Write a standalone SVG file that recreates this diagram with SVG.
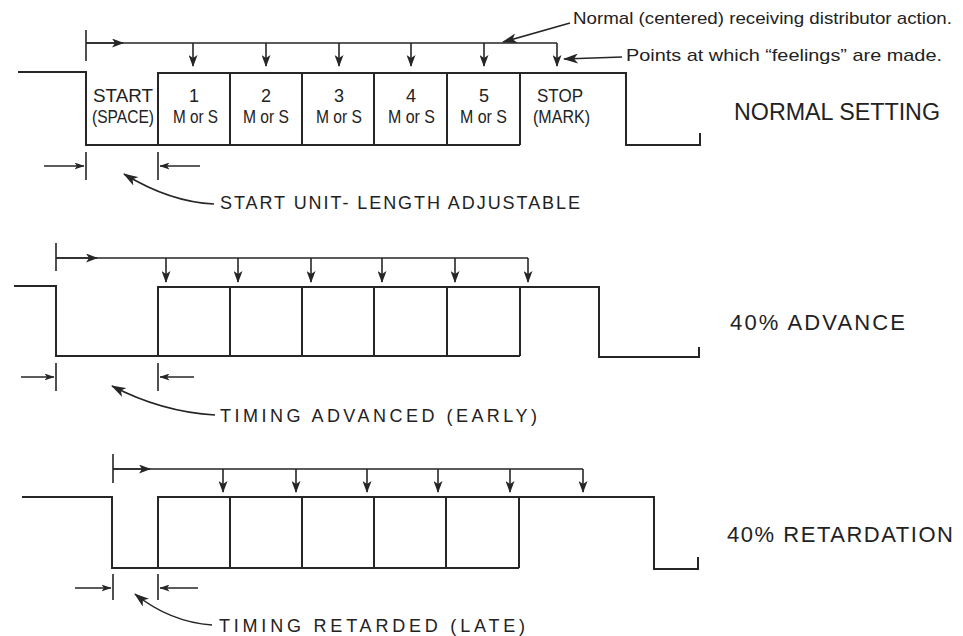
<svg xmlns="http://www.w3.org/2000/svg" width="963" height="636" viewBox="0 0 963 636">
<style>
.w{fill:none;stroke:#262626;stroke-width:2;stroke-linejoin:miter}
.c{fill:none;stroke:#262626;stroke-width:1.6}
.t{font-family:"Liberation Sans",Arial,sans-serif;fill:#222}
.bx{font-size:18px}
.lab{font-size:18px}
.big{font-size:22px}
.note{font-size:17px}
</style>
<defs>
<marker id="ah" viewBox="0 0 12 9" refX="11" refY="4.5" markerWidth="12" markerHeight="9" markerUnits="userSpaceOnUse" orient="auto"><path d="M0,0 L12,4.5 L0,9 L3,4.5 z" fill="#262626"/></marker>
<marker id="as" viewBox="0 0 10 7" refX="9.5" refY="3.5" markerWidth="10" markerHeight="7" markerUnits="userSpaceOnUse" orient="auto"><path d="M0,0 L10,3.5 L0,7 L2.5,3.5 z" fill="#262626"/></marker>
<marker id="al" viewBox="0 0 15 10" refX="14" refY="5" markerWidth="15" markerHeight="10" markerUnits="userSpaceOnUse" orient="auto"><path d="M0,0 L15,5 L0,10 L4,5 z" fill="#262626"/></marker>
</defs>
<rect width="963" height="636" fill="#fff"/>

<!-- NORMAL SETTING waveform -->
<g id="wave-normal">
<path class="w" d="M18,72 H86 V145 H520"/>
<path class="w" d="M158,145 V73 H626 V145 H700 V133"/>
<path class="w" d="M230,73 V145 M302,73 V145 M374,73 V145 M447,73 V145 M520,73 V145"/>
<text class="t bx" x="93" y="102" textLength="60" lengthAdjust="spacingAndGlyphs">START</text>
<text class="t bx" x="92" y="123" textLength="62" lengthAdjust="spacingAndGlyphs">(SPACE)</text>
<text class="t bx" x="194" y="102" text-anchor="middle">1</text>
<text class="t bx" x="266" y="102" text-anchor="middle">2</text>
<text class="t bx" x="339" y="102" text-anchor="middle">3</text>
<text class="t bx" x="411" y="102" text-anchor="middle">4</text>
<text class="t bx" x="484" y="102" text-anchor="middle">5</text>
<text class="t bx" x="173" y="123" textLength="45" lengthAdjust="spacingAndGlyphs">M or S</text>
<text class="t bx" x="243" y="123" textLength="46" lengthAdjust="spacingAndGlyphs">M or S</text>
<text class="t bx" x="316" y="123" textLength="46" lengthAdjust="spacingAndGlyphs">M or S</text>
<text class="t bx" x="388" y="123" textLength="47" lengthAdjust="spacingAndGlyphs">M or S</text>
<text class="t bx" x="460" y="123" textLength="47" lengthAdjust="spacingAndGlyphs">M or S</text>
<text class="t bx" x="537" y="102" textLength="46" lengthAdjust="spacingAndGlyphs">STOP</text>
<text class="t bx" x="533" y="123" textLength="57" lengthAdjust="spacingAndGlyphs">(MARK)</text>
</g>

<!-- 40% ADVANCE waveform -->
<g id="wave-advance">
<path class="w" d="M14,286 H56 V356 H520"/>
<path class="w" d="M158,356 V287 H599 V357 H699 V347"/>
<path class="w" d="M230,287 V356 M302,287 V356 M374,287 V356 M447,287 V356 M520,287 V356"/>
</g>

<!-- 40% RETARDATION waveform -->
<g id="wave-retard">
<path class="w" d="M22,497 H112 V568 H519"/>
<path class="w" d="M158,568 V497 H654 V569 H698 V557"/>
<path class="w" d="M230,497 V568 M302,497 V568 M374,497 V568 M446,497 V568 M519,497 V568"/>
</g>

<!-- labels -->
<g id="label-normal"><text class="t" style="font-size:23px" x="734" y="120" textLength="206" lengthAdjust="spacingAndGlyphs">NORMAL SETTING</text></g>
<g id="label-advance"><text class="t big" x="730" y="330" textLength="175" lengthAdjust="spacing">40% ADVANCE</text></g>
<g id="label-retard"><text class="t big" x="727" y="542" textLength="226" lengthAdjust="spacing">40% RETARDATION</text></g>
<g id="note-centered"><text class="t note" x="573" y="24" textLength="379" lengthAdjust="spacingAndGlyphs">Normal (centered) receiving distributor action.</text></g>
<g id="note-points"><text class="t note" x="626" y="61" textLength="316" lengthAdjust="spacingAndGlyphs">Points at which “feelings” are made.</text></g>
<g id="note-start"><text class="t lab" x="220" y="209" textLength="360" lengthAdjust="spacing">START UNIT- LENGTH ADJUSTABLE</text></g>
<g id="note-early"><text class="t lab" x="220" y="422" textLength="317" lengthAdjust="spacing">TIMING ADVANCED (EARLY)</text></g>
<g id="note-late"><text class="t lab" x="219" y="632" textLength="306" lengthAdjust="spacing">TIMING RETARDED (LATE)</text></g>

<!-- connectors -->
<g id="connectors">
<!-- distributor, normal -->
<path class="c" d="M86,30 V61 M86,43 H557"/>
<path class="c" d="M86,43 H123" marker-end="url(#ah)"/>
<path class="c" d="M193,43 V66" marker-end="url(#ah)"/>
<path class="c" d="M266,43 V66" marker-end="url(#ah)"/>
<path class="c" d="M339,43 V66" marker-end="url(#ah)"/>
<path class="c" d="M411,43 V66" marker-end="url(#ah)"/>
<path class="c" d="M484,43 V66" marker-end="url(#ah)"/>
<path class="c" d="M557,43 V66" marker-end="url(#ah)"/>
<!-- distributor, advance -->
<path class="c" d="M56,243 V271 M56,258 H528"/>
<path class="c" d="M56,258 H97" marker-end="url(#ah)"/>
<path class="c" d="M166,258 V282" marker-end="url(#ah)"/>
<path class="c" d="M238,258 V282" marker-end="url(#ah)"/>
<path class="c" d="M311,258 V282" marker-end="url(#ah)"/>
<path class="c" d="M382,258 V282" marker-end="url(#ah)"/>
<path class="c" d="M455,258 V282" marker-end="url(#ah)"/>
<path class="c" d="M528,258 V282" marker-end="url(#ah)"/>
<!-- distributor, retard -->
<path class="c" d="M113,454 V483 M113,469 H583"/>
<path class="c" d="M113,469 H150" marker-end="url(#ah)"/>
<path class="c" d="M223,469 V492" marker-end="url(#ah)"/>
<path class="c" d="M296,469 V492" marker-end="url(#ah)"/>
<path class="c" d="M367,469 V492" marker-end="url(#ah)"/>
<path class="c" d="M438,469 V492" marker-end="url(#ah)"/>
<path class="c" d="M510,469 V492" marker-end="url(#ah)"/>
<path class="c" d="M583,469 V492" marker-end="url(#ah)"/>
<!-- adjust ticks/arrows -->
<path class="c" d="M86,152 V180 M158,152 V180"/>
<path class="c" d="M44,166 H84" marker-end="url(#as)"/>
<path class="c" d="M200,166 H160" marker-end="url(#as)"/>
<path class="c" d="M56,363 V391 M158,363 V391"/>
<path class="c" d="M21,377 H54" marker-end="url(#as)"/>
<path class="c" d="M194,377 H160" marker-end="url(#as)"/>
<path class="c" d="M113,574 V600 M158,574 V600"/>
<path class="c" d="M75,588 H111" marker-end="url(#as)"/>
<path class="c" d="M198,588 H160" marker-end="url(#as)"/>
<!-- curved pointers -->
<path class="c" d="M214,204 Q170,202 124,174" marker-end="url(#al)"/>
<path class="c" d="M215,415 Q162,412 112,386" marker-end="url(#al)"/>
<path class="c" d="M212,625 Q170,622 135,594" marker-end="url(#al)"/>
<!-- annotation pointers -->
<path class="c" d="M570,23 L503,42" marker-end="url(#al)"/>
<path class="c" d="M622,57 L564,59" marker-end="url(#al)"/>
</g>
</svg>
